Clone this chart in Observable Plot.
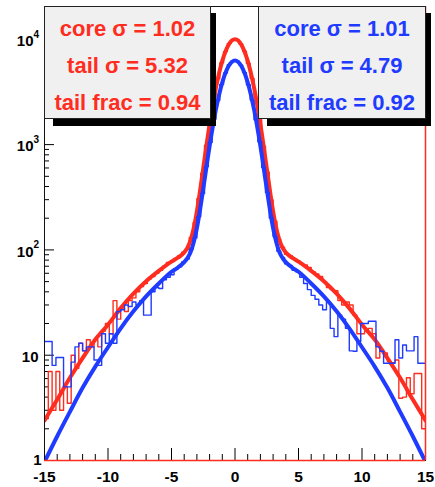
<!DOCTYPE html>
<html><head><meta charset="utf-8">
<script src="https://cdn.jsdelivr.net/npm/d3@7"></script>
<script src="https://cdn.jsdelivr.net/npm/@observablehq/plot@0.6"></script>
<style>
html,body{margin:0;padding:0;background:#fff;}
#wrap{position:relative;width:435px;height:487px;font-family:"Liberation Sans",Arial,sans-serif;}
.box{position:absolute;background:#f0f0f0;border:1px solid #222;box-sizing:border-box;text-align:center;font-weight:bold;font-size:22px;padding-top:3px;overflow:visible;}
.box div{height:37px;line-height:37px;white-space:nowrap;}
.shadow{position:absolute;background:#000;}
</style></head><body><div id="wrap"></div>
<script>
// ---- data ----
const xMin = -15, xMax = 15, nBins = 100;
const redCounts = [
  2.5,7,3,7,3, 5,3.5,10,7.5,13, 11,14,12,14,12, 17,20,16,33,22, 28,26,33,35,40, 45,48,53,56,60, 64,70,76,78,83,
  88,95,102,131,181,306,536,985,1690,2810,4210,5980,7650,9150,9880,
  9940,9070,7700,5910,4260,2770,1720,965,548,298,187,126,106,91,88,
  82,79,74,72,68, 62,59,56,50,44, 42,41,33,30,32, 30,24,16,16,17, 18,16,9.4,11,10.5, 8.7,8.5,9,3.9,4.0, 6.1,4.3,6.7,6.7,2.0
];
const blueCounts = [
  13.5,13.5,8,9.5,9.5, 5,5,8.6,12,13, 11,12,12,9,8, 16,13,16,13,26, 27,30,29,32,30, 33,24,24,40,44, 43,52,55,58,66,
  69,77,82,101,130,207,343,618,1050,1745,2620,3735,4790,5750,6210,
  6260,5690,4830,3700,2655,1720,1065,605,351,201,134,97,85,74,71,
  64,62,55,48,42, 37,34,30,27,32, 18,15,24,22,18, 11,10.9,13.5,20,20, 21,21,12,10.9,8.4, 8.4,8.4,14,9.4,12.5, 11,11,15,8.4,8.4
];
const fitX = [-15,-14,-13,-12,-11,-10,-9,-8,-7,-6,-5,-4.5,-4,-3.75,-3.5,-3.25,-3,-2.75,-2.5,-2,-1.5,-1,-0.5,0,
  0.5,1,1.5,2,2.5,2.75,3,3.25,3.5,3.75,4,4.5,5,6,7,8,9,10,11,12,13,14,15];
const fitRed = [2.4,3.8,6.1,9.4,14.1,19.5,28,38.4,50.4,63.2,77.3,84.3,94.5,104.5,124,161,233,366,597,1558,3471,6238,8900,10020,
  8900,6238,3471,1558,597,366,233,161,124,104.5,94.5,84.3,77.3,63.2,50.4,38.4,28,19.5,14.1,9.4,6.1,3.8,2.4];
const fitBlue = [0.97,1.7,2.9,4.9,7.8,11.9,18,26.1,36.2,48,62,68,76.5,83.6,95,118,161,241,381,969,2158,3900,5590,6305,
  5590,3900,2158,969,381,241,161,118,95,83.6,76.5,68,62,48,36.2,26.1,18,11.9,7.8,4.9,2.9,1.7,0.97];
const xMajor = [-15,-10,-5,0,5,10,15];
const xMajorLabels = ["-15","-10","-5","0","5","10","15"];
const xMinor = d3.range(-15, 16, 1).filter(v => v % 5 !== 0);
const yMajor = [1,10,100,1000,10000];
const yBase = ["1","10","10","10","10"];
const yExp = ["","","2","3","4"];
const yMinor = [2,3,4,5,6,7,8,9,20,30,40,50,60,70,80,90,200,300,400,500,600,700,800,900,2000,3000,4000,5000,6000,7000,8000,9000,20000];
const redStats = ["core σ = 1.02", "tail σ = 5.32", "tail frac = 0.94"];
const blueStats = ["core σ = 1.01", "tail σ = 4.79", "tail frac = 0.92"];

// ---- styles ----
const RED = "#ff2d1f", BLUE = "#1f3bff";
const W = 435, H = 487, mL = 44, mR = 10, mT = 6, mB = 27;
const innerW = W - mL - mR, innerH = H - mT - mB;

const edges = d3.range(nBins + 1).map(i => xMin + i * (xMax - xMin) / nBins);
const steps = counts => edges.map((e, i) => ({x: e, y: counts[Math.min(i, counts.length - 1)]}));
const fitRows = vals => fitX.map((x, i) => ({x, y: vals[i]}));
const yLab = yMajor.map((v, i) => ({v, base: yBase[i], exp: yExp[i]}));
const xLab = xMajor.map((v, i) => ({v, t: xMajorLabels[i]}));

const plot = Plot.plot({
  width: W, height: H,
  marginLeft: mL, marginRight: mR, marginTop: mT, marginBottom: mB,
  x: {domain: [xMin, xMax], axis: null},
  y: {type: "log", domain: [1, 20500], axis: null},
  style: {fontFamily: "'Liberation Sans', Arial, sans-serif", background: "white", overflow: "visible"},
  marks: [
    Plot.ruleX(xMinor, {x: d => d, insetTop: innerH - 6, stroke: "#000"}),
    Plot.ruleX(xMajor, {x: d => d, insetTop: innerH - 12, stroke: "#000"}),
    Plot.ruleY(yMinor, {y: d => d, insetRight: innerW - 5, stroke: "#000"}),
    Plot.ruleY(yMajor, {y: d => d, insetRight: innerW - 10, stroke: "#000"}),
    Plot.line(steps(redCounts), {x: "x", y: "y", curve: "step-after", stroke: RED, strokeWidth: 1.4, clip: true}),
    Plot.line(fitRows(fitRed), {x: "x", y: "y", curve: "monotone-x", stroke: RED, strokeWidth: 4, clip: true}),
    Plot.line(steps(blueCounts), {x: "x", y: "y", curve: "step-after", stroke: BLUE, strokeWidth: 1.4, clip: true}),
    Plot.line(fitRows(fitBlue), {x: "x", y: "y", curve: "monotone-x", stroke: BLUE, strokeWidth: 4, clip: true}),
    Plot.frame({stroke: "#111"}),
    Plot.ruleY([1], {y: d => d, stroke: RED, strokeWidth: 1.5}),
    Plot.ruleX([xMax], {x: d => d, stroke: RED, strokeWidth: 1.5}),
    Plot.text(xLab, {x: "v", text: "t", frameAnchor: "bottom", dy: 17, lineAnchor: "middle", fontSize: 15.5, fontWeight: "bold", fill: "#000"}),
    Plot.text(yLab.filter(d => d.exp), {y: "v", text: "base", frameAnchor: "left", textAnchor: "end", dx: -11, dy: 2, fontSize: 15, fontWeight: "bold", fill: "#000"}),
    Plot.text(yLab.filter(d => d.exp), {y: "v", text: "exp", frameAnchor: "left", textAnchor: "start", dx: -11, dy: -5, fontSize: 10, fontWeight: "bold", fill: "#000"}),
    Plot.text(yLab.filter(d => !d.exp && d.base !== "1"), {y: "v", text: "base", frameAnchor: "left", textAnchor: "end", dx: -6, dy: 2, fontSize: 15, fontWeight: "bold", fill: "#000"}),
    Plot.text(yLab.filter(d => d.base === "1"), {y: "v", text: "base", frameAnchor: "left", textAnchor: "end", dx: -3, dy: 0, fontSize: 15, fontWeight: "bold", fill: "#000"})
  ]
});
const wrap = document.getElementById("wrap");
wrap.appendChild(plot);

function addBox(left, top, w, h, lines, color) {
  const sh = document.createElement("div");
  sh.className = "shadow";
  Object.assign(sh.style, {left: (left + 9) + "px", top: (top + 7) + "px", width: (w - 4) + "px", height: h + "px"});
  wrap.appendChild(sh);
  const b = document.createElement("div");
  b.className = "box";
  Object.assign(b.style, {left: left + "px", top: top + "px", width: w + "px", height: h + "px", color});
  for (const t of lines) { const d = document.createElement("div"); d.textContent = t; b.appendChild(d); }
  wrap.appendChild(b);
}
addBox(44, 6, 167, 113, redStats, RED);
addBox(258, 6, 168, 113, blueStats, BLUE);
</script></body></html>
